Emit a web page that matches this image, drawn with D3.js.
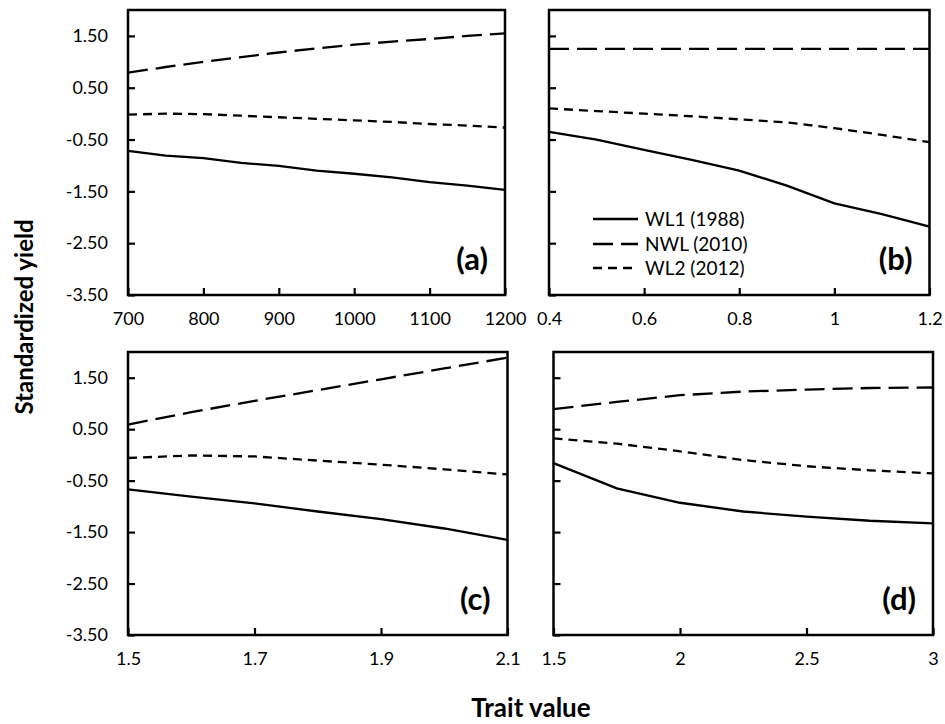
<!DOCTYPE html>
<html><head><meta charset="utf-8">
<script src="https://cdn.jsdelivr.net/npm/d3@7"></script>
<style>
html,body{margin:0;padding:0;background:#fff;}
svg{display:block;font-family:Lato,"Open Sans",sans-serif;}
</style></head>
<body>
<svg id="chart" width="945" height="724"></svg>
<script>
// ---------- data ----------
const seriesNames = ["WL1 (1988)", "NWL (2010)", "WL2 (2012)"];
const yTicks = [-3.5, -2.5, -1.5, -0.5, 0.5, 1.5];

const xA = [700, 750, 800, 850, 900, 950, 1000, 1050, 1100, 1150, 1200];
const aWL1 = [-0.72, -0.81, -0.86, -0.95, -1.01, -1.10, -1.16, -1.23, -1.32, -1.39, -1.47];
const aNWL = [0.79, 0.90, 1.00, 1.09, 1.18, 1.26, 1.33, 1.39, 1.44, 1.50, 1.55];
const aWL2 = [-0.02, 0.00, -0.01, -0.04, -0.07, -0.10, -0.13, -0.16, -0.20, -0.23, -0.27];
const xTicksA = [700, 800, 900, 1000, 1100, 1200];

const xB = [0.4, 0.5, 0.6, 0.7, 0.8, 0.9, 1.0, 1.1, 1.2];
const bWL1 = [-0.35, -0.50, -0.70, -0.89, -1.10, -1.39, -1.73, -1.94, -2.18];
const bNWL = [1.25, 1.25, 1.25, 1.25, 1.25, 1.25, 1.25, 1.25, 1.25];
const bWL2 = [0.10, 0.05, 0.00, -0.05, -0.11, -0.17, -0.28, -0.41, -0.55];
const xTicksB = [0.4, 0.6, 0.8, 1.0, 1.2];

const xC = [1.5, 1.6, 1.7, 1.8, 1.9, 2.0, 2.1];
const cWL1 = [-0.67, -0.81, -0.94, -1.10, -1.25, -1.43, -1.65];
const cNWL = [0.59, 0.83, 1.05, 1.26, 1.47, 1.68, 1.89];
const cWL2 = [-0.06, -0.01, -0.03, -0.11, -0.19, -0.28, -0.38];
const xTicksC = [1.5, 1.7, 1.9, 2.1];

const xD = [1.5, 1.75, 2.0, 2.25, 2.5, 2.75, 3.0];
const dWL1 = [-0.16, -0.65, -0.93, -1.10, -1.20, -1.28, -1.33];
const dNWL = [0.89, 1.03, 1.16, 1.23, 1.27, 1.30, 1.31];
const dWL2 = [0.32, 0.22, 0.07, -0.10, -0.22, -0.30, -0.36];
const xTicksD = [1.5, 2.0, 2.5, 3.0];

const panelLabels = ["(a)", "(b)", "(c)", "(d)"];

// ---------- layout / style ----------
const panels = [
  {x: xA, s: [aWL1, aNWL, aWL2], dom: [700, 1200], ticks: xTicksA, fmt: d => String(d), L: 128, R: 505, T: 10, B: 295, yLabels: true, legend: false},
  {x: xB, s: [bWL1, bNWL, bWL2], dom: [0.4, 1.2], ticks: xTicksB, fmt: d => String(+d.toFixed(1)), L: 549, R: 929.5, T: 10, B: 295, yLabels: false, legend: true},
  {x: xC, s: [cWL1, cNWL, cWL2], dom: [1.5, 2.1], ticks: xTicksC, fmt: d => d.toFixed(1), L: 128, R: 507.5, T: 352, B: 635, yLabels: true, legend: false},
  {x: xD, s: [dWL1, dNWL, dWL2], dom: [1.5, 3.0], ticks: xTicksD, fmt: d => String(+d.toFixed(1)), L: 553.5, R: 933, T: 352, B: 635, yLabels: false, legend: false}
];
const dashes = [null, "20,8", "9,6"];

const svg = d3.select("#chart");

panels.forEach((p, i) => {
  const x = d3.scaleLinear().domain(p.dom).range([p.L, p.R]);
  const y = d3.scaleLinear().domain([-3.5, 2.0]).range([p.B, p.T]);
  const g = svg.append("g");

  // series
  p.s.forEach((vals, k) => {
    const line = d3.line().x((d, j) => x(p.x[j])).y(d => y(d));
    g.append("path").datum(vals).attr("d", line)
      .attr("fill", "none").attr("stroke", "#000").attr("stroke-width", 2.3)
      .attr("stroke-dasharray", dashes[k]);
  });

  // axes
  const ax = d3.axisLeft(y).tickValues(yTicks).tickSize(-7).tickSizeOuter(0)
    .tickFormat(p.yLabels ? (d => d.toFixed(2)) : "");
  const gy = g.append("g").attr("transform", `translate(${p.L},0)`).call(ax);
  gy.selectAll("text").attr("x", -20).attr("font-size", 18).attr("font-family", "Lato").attr("fill", "#000");

  const bx = d3.axisBottom(x).tickValues(p.ticks).tickSize(-7).tickSizeOuter(0).tickFormat(p.fmt);
  const gx = g.append("g").attr("transform", `translate(0,${p.B})`).call(bx);
  gx.selectAll("text").attr("y", 17).attr("font-size", 18).attr("font-family", "Lato").attr("fill", "#000");

  [gy, gx].forEach(a => {
    a.select(".domain").remove();
    a.selectAll(".tick line").attr("stroke", "#000").attr("stroke-width", 2.2);
  });

  // frame
  g.append("rect").attr("x", p.L).attr("y", p.T).attr("width", p.R - p.L).attr("height", p.B - p.T)
    .attr("fill", "none").attr("stroke", "#000").attr("stroke-width", 2.5);

  // panel label
  g.append("text").attr("x", p.R - 17).attr("y", p.B - 25).attr("text-anchor", "end")
    .attr("font-size", 31).attr("font-weight", "bold").attr("font-family", "Lato").text(panelLabels[i]);

  // legend
  if (p.legend) {
    const rows = [219, 244, 268];
    seriesNames.forEach((name, k) => {
      g.append("line").attr("x1", 593).attr("x2", 638).attr("y1", rows[k]).attr("y2", rows[k])
        .attr("stroke", "#000").attr("stroke-width", 2.3).attr("stroke-dasharray", dashes[k]);
      g.append("text").attr("x", 645).attr("y", rows[k]).attr("dy", "0.35em")
        .attr("font-size", 19).attr("font-family", "Lato").text(name);
    });
  }
});

// axis titles
svg.append("text").attr("transform", "translate(25,317) rotate(-90)").attr("text-anchor", "middle")
  .attr("dy", "0.35em").attr("font-size", 24).attr("font-weight", "bold").attr("font-family", "Lato")
  .text("Standardized yield");
svg.append("text").attr("x", 531).attr("y", 708).attr("dy", "0.35em").attr("text-anchor", "middle")
  .attr("font-size", 26).attr("font-weight", "bold").attr("font-family", "Lato").text("Trait value");
</script>
</body></html>
